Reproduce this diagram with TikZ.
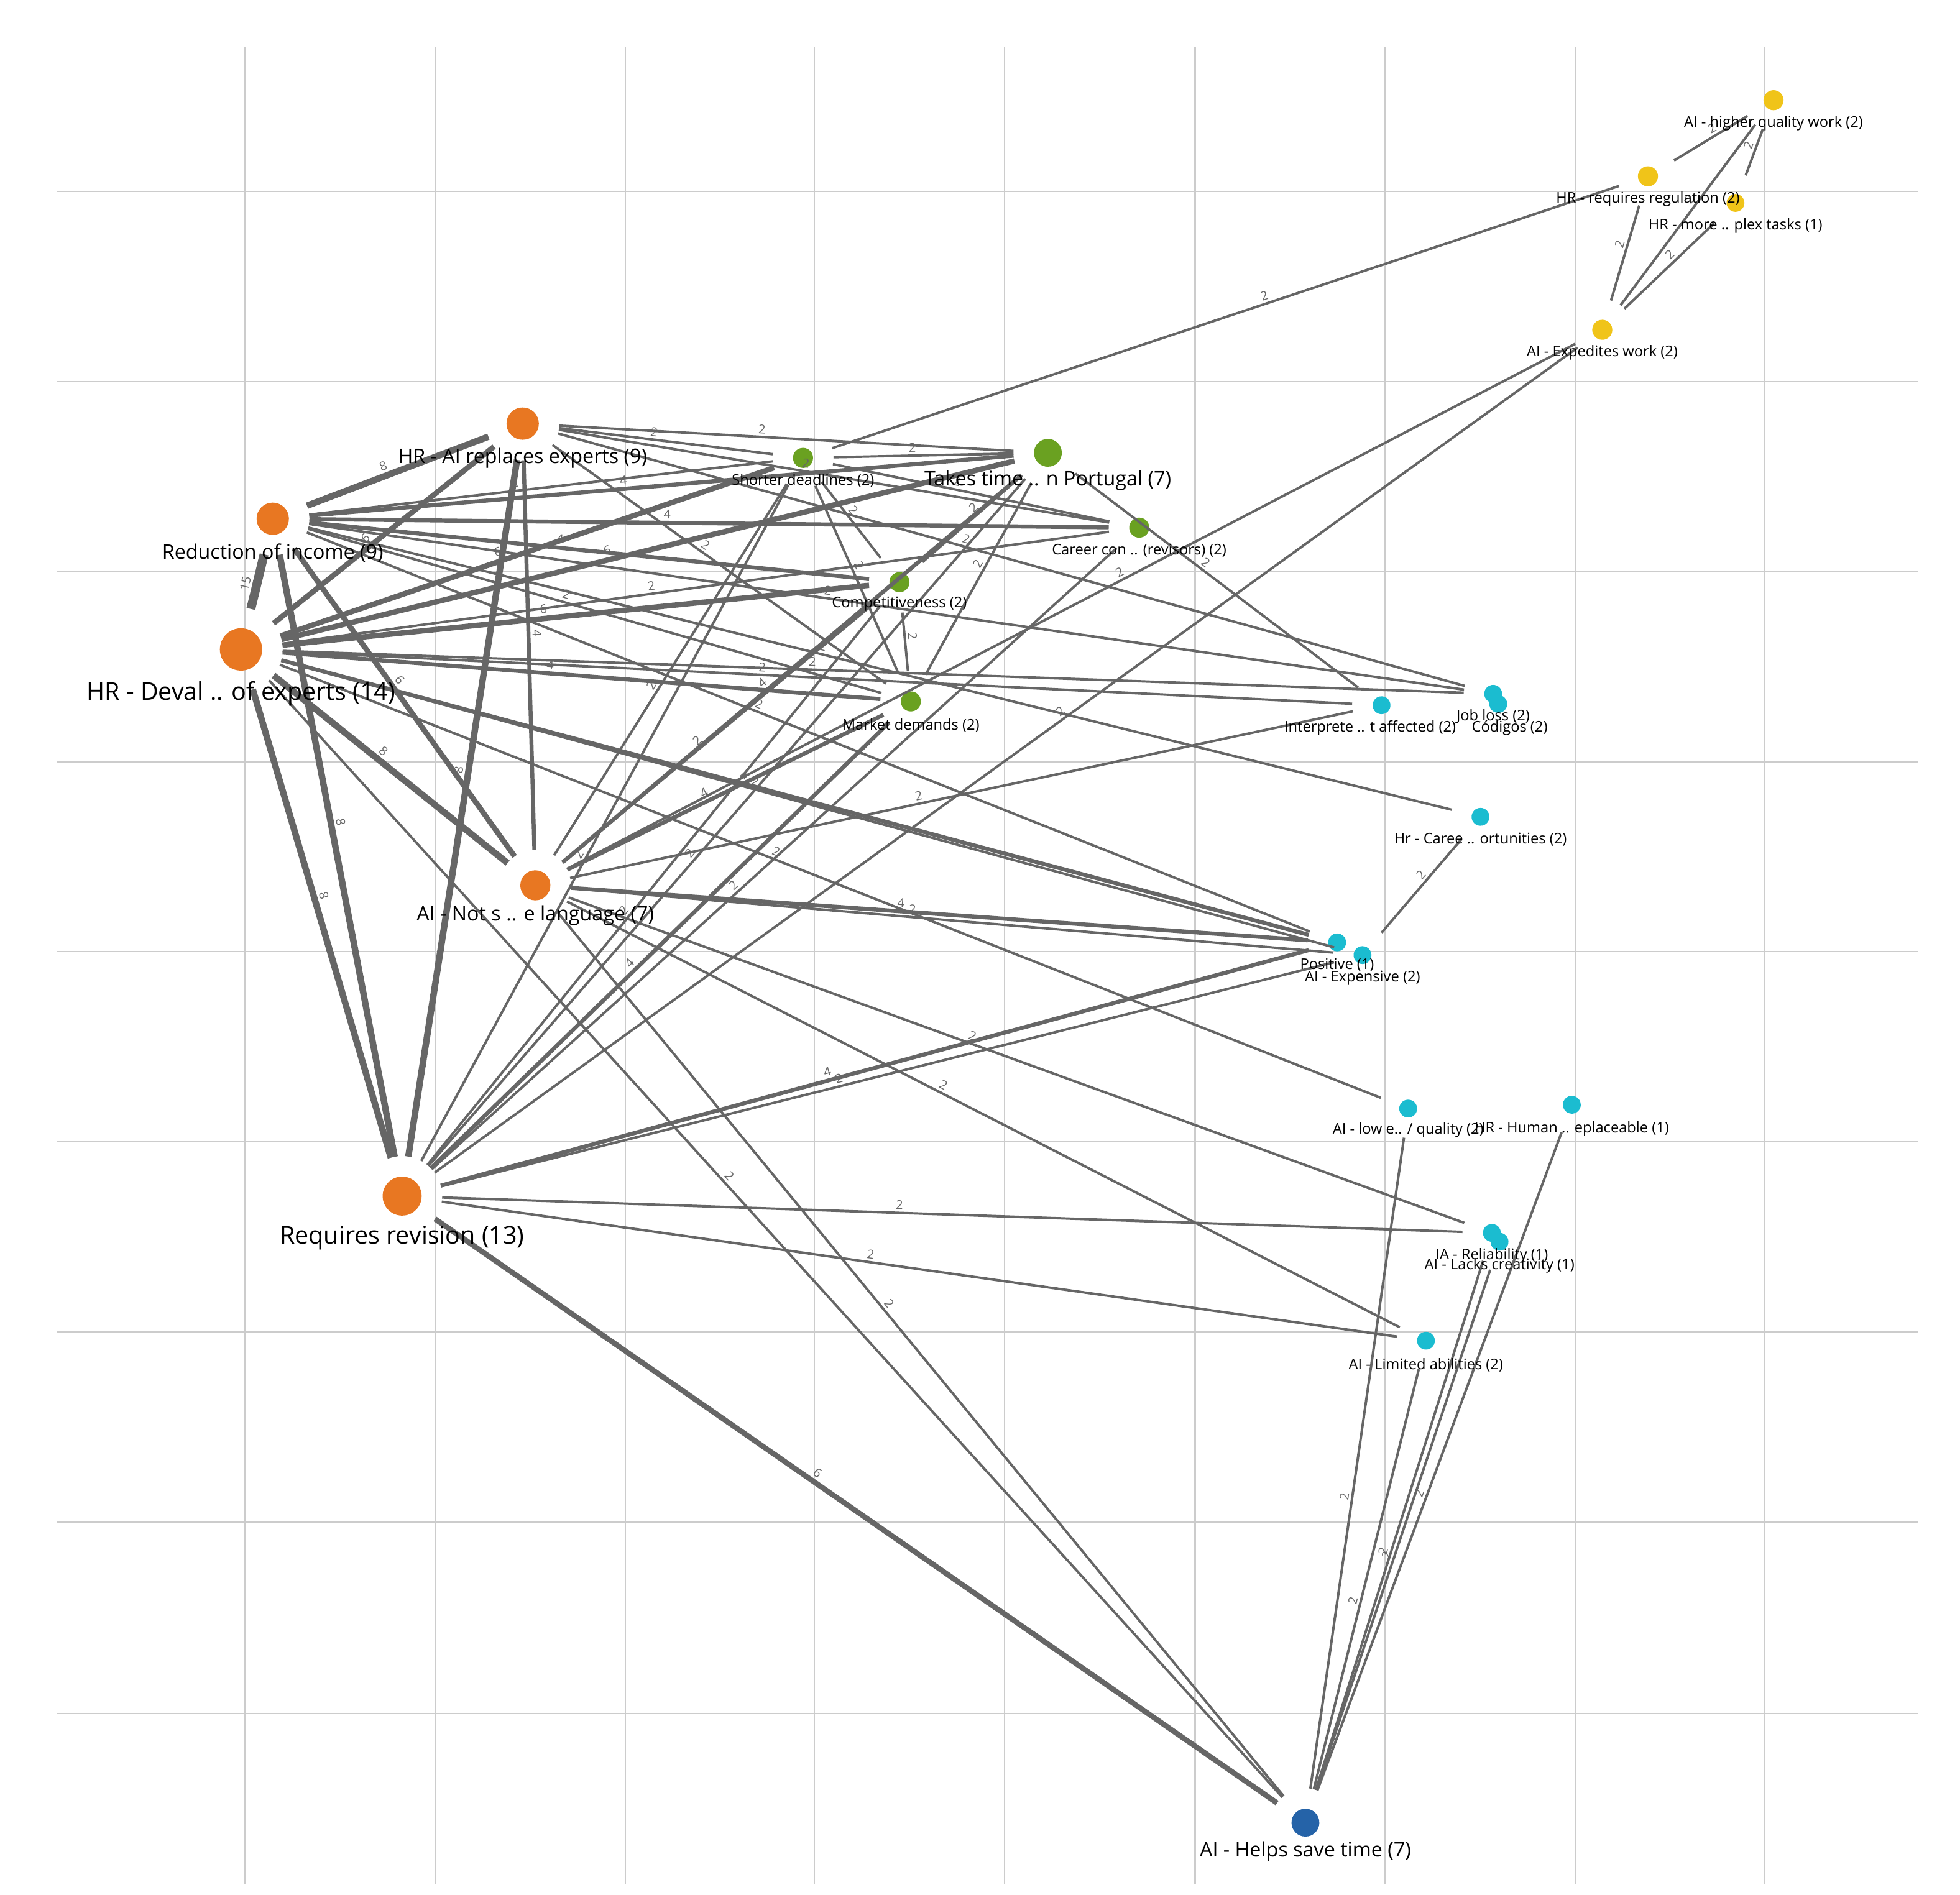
\documentclass[tikz,border=0pt]{standalone}
\usepackage{fontspec}
\setmainfont{Open Sans}
\definecolor{cor}{HTML}{E87722}
\definecolor{cgr}{HTML}{6AA121}
\definecolor{ccy}{HTML}{1BBCD0}
\definecolor{cye}{HTML}{F0C419}
\definecolor{cbl}{HTML}{2563A8}
\definecolor{cedge}{HTML}{666666}
\begin{document}
\begin{tikzpicture}[x=0.02cm,y=-0.02cm,
  dot/.style={circle,inner sep=0pt,minimum size=#1},
  ls/.style={font=\fontsize{6.6}{8}\selectfont,inner sep=0pt},
  lm/.style={font=\fontsize{9}{11}\selectfont,inner sep=0pt},
  lb/.style={font=\fontsize{11}{13}\selectfont,inner sep=0pt},
  e2/.style={draw=cedge,line width=1.1pt,shorten <=9pt,shorten >=9pt},
  e4/.style={draw=cedge,line width=1.8pt,shorten <=9pt,shorten >=9pt},
  e6/.style={draw=cedge,line width=2.4pt,shorten <=9pt,shorten >=9pt},
  e8/.style={draw=cedge,line width=2.9pt,shorten <=9pt,shorten >=9pt},
  e15/.style={draw=cedge,line width=4pt,shorten <=9pt,shorten >=9pt},
  elab/.style={font=\fontsize{5.5}{6}\selectfont,text=cedge,inner sep=1pt,sloped}]
\useasboundingbox (0,0) rectangle (1545,1494);
\foreach \x in {193,343,493,642,792,942,1092,1242,1391} \draw[gray!40,line width=0.6pt] (\x,37) -- (\x,1485);
\foreach \y in {151,301,451,601,750,900,1050,1200,1351} \draw[gray!40,line width=0.6pt] (45,\y) -- (1512,\y);
% nodes
\node[dot=9pt,fill=cye] (hq) at (1398,79) {};
\node[dot=9pt,fill=cye] (rr) at (1299,139) {};
\node[dot=8pt,fill=cye] (mp) at (1368,160) {};
\node[dot=9pt,fill=cye] (ex) at (1263,260) {};
\node[dot=9pt,fill=cgr] (sd) at (633,361) {};
\node[dot=12.5pt,fill=cgr] (tt) at (826,357) {};
\node[dot=9pt,fill=cgr] (cc) at (898,416) {};
\node[dot=9pt,fill=cgr] (cp) at (709,459) {};
\node[dot=9pt,fill=cgr] (md) at (718,553) {};
\node[dot=14.5pt,fill=cor] (ar) at (412,334) {};
\node[dot=14.5pt,fill=cor] (ri) at (215,409) {};
\node[dot=19pt,fill=cor] (de) at (190,512) {};
\node[dot=13.5pt,fill=cor] (nl) at (422,698) {};
\node[dot=17.5pt,fill=cor] (rv) at (317,943) {};
\node[dot=8pt,fill=ccy] (ip) at (1089,556) {};
\node[dot=8pt,fill=ccy] (jl) at (1177,547) {};
\node[dot=8pt,fill=ccy] (cd) at (1181,555) {};
\node[dot=8pt,fill=ccy] (hc) at (1167,644) {};
\node[dot=8pt,fill=ccy] (po) at (1054,743) {};
\node[dot=8pt,fill=ccy] (xe) at (1074,753) {};
\node[dot=8pt,fill=ccy] (lq) at (1110,874) {};
\node[dot=8pt,fill=ccy] (hu) at (1239,871) {};
\node[dot=8pt,fill=ccy] (re) at (1176,972) {};
\node[dot=8pt,fill=ccy] (lc) at (1182,979) {};
\node[dot=8pt,fill=ccy] (la) at (1124,1057) {};
\node[dot=12.5pt,fill=cbl] (st) at (1029,1437) {};
% edges
\foreach \a/\b/\w in {hq/rr/2,hq/mp/2,hq/ex/2,rr/ex/2,mp/ex/2,rr/sd/2,ex/nl/2,ex/rv/2,
 de/ri/15,de/ar/6,de/sd/6,de/tt/6,de/cp/6,de/cc/2,de/md/4,de/ip/2,de/jl/2,de/nl/8,de/rv/8,de/po/4,de/lq/2,de/st/2,de/xe/2,
 ri/ar/8,ri/tt/4,ri/sd/2,ri/cc/4,ri/cp/4,ri/md/2,ri/nl/6,ri/rv/8,ri/jl/2,ri/hc/2,ri/po/2,
 ar/tt/2,ar/sd/2,ar/cc/2,ar/nl/4,ar/rv/8,ar/md/2,ar/jl/2,
 nl/sd/2,nl/tt/4,nl/cp/2,nl/md/4,nl/ip/2,nl/po/4,nl/xe/2,nl/la/2,nl/st/2,nl/re/2,
 rv/sd/2,rv/tt/2,rv/cp/2,rv/md/4,rv/cc/2,rv/po/4,rv/xe/2,rv/re/2,rv/la/2,rv/st/6,
 st/lq/2,st/re/2,st/lc/2,st/la/2,st/hu/2,hc/xe/2,tt/ip/2,
 sd/cp/2,sd/md/2,tt/cp/2,tt/md/2,cp/md/2,sd/cc/2,sd/tt/2}
 \draw[e\w] (\a) -- (\b) node[elab,pos=0.45,above]{\w};
% labels
\node[ls] (l1) at (1398,97) {AI - higher quality work (2)};
\node[ls] (l2) at (1299,157) {HR - requires regulation (2)};
\node[ls] (l3) at (1368,178) {HR - more .. plex tasks (1)};
\node[ls] (l4) at (1263,278) {AI - Expedites work (2)};
\node[ls] (l5) at (633,379) {Shorter deadlines (2)};
\node[lm] (l6) at (826,379) {Takes time .. n Portugal (7)};
\node[ls] (l7) at (898,434) {Career con .. (revisors) (2)};
\node[ls] (l8) at (709,476) {Competitiveness (2)};
\node[ls] (l9) at (718,572) {Market demands (2)};
\node[lm] (l10) at (412,361) {HR - AI replaces experts (9)};
\node[lm] (l11) at (215,436) {Reduction of income (9)};
\node[lb] (l12) at (190,547) {HR - Deval .. of experts (14)};
\node[lm] (l13) at (422,722) {AI - Not s .. e language (7)};
\node[lb] (l14) at (317,976) {Requires revision (13)};
\node[ls] (l15) at (1080,574) {Interprete .. t affected (2)};
\node[ls] (l16) at (1177,565) {Job loss (2)};
\node[ls] (l17) at (1190,574) {Códigos (2)};
\node[ls] (l18) at (1167,662) {Hr - Caree .. ortunities (2)};
\node[ls] (l19) at (1054,761) {Positive (1)};
\node[ls] (l20) at (1074,771) {AI - Expensive (2)};
\node[ls] (l21) at (1110,891) {AI - low e.. / quality (2)};
\node[ls] (l22) at (1239,890) {HR - Human .. eplaceable (1)};
\node[ls] (l23) at (1176,990) {IA - Reliability (1)};
\node[ls] (l24) at (1182,998) {AI - Lacks creativity (1)};
\node[ls] (l25) at (1124,1076) {AI - Limited abilities (2)};
\node[lm] (l26) at (1029,1460) {AI - Helps save time (7)};
\end{tikzpicture}
\end{document}
